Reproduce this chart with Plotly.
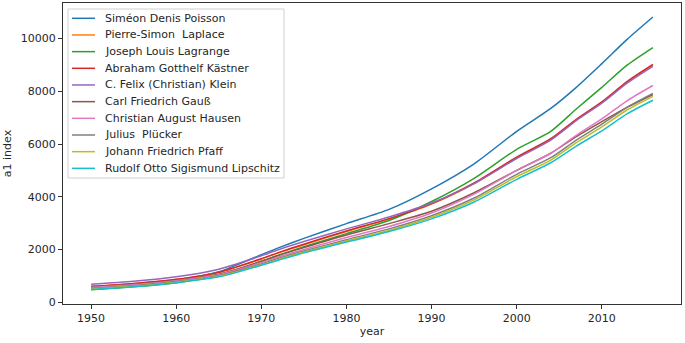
import plotly.graph_objects as go

years = [1950, 1955, 1960, 1965, 1967, 1970, 1972, 1975, 1980, 1985, 1990, 1995, 2000, 2004, 2007, 2010, 2013, 2016]

names = [
    "Siméon Denis Poisson",
    "Pierre-Simon  Laplace",
    "Joseph Louis Lagrange",
    "Abraham Gotthelf Kästner",
    "C. Felix (Christian) Klein",
    "Carl Friedrich Gauß",
    "Christian August Hausen",
    "Julius  Plücker",
    "Johann Friedrich Pfaff",
    "Rudolf Otto Sigismund Lipschitz",
]

poisson = [540, 650, 830, 1150, 1400, 1800, 2060, 2420, 2980, 3520, 4300, 5250, 6480, 7350, 8150, 9050, 9980, 10820]
laplace = [590, 700, 860, 1120, 1320, 1640, 1870, 2180, 2680, 3150, 3720, 4500, 5480, 6180, 6920, 7580, 8350, 8990]
lagrange = [470, 580, 740, 1000, 1200, 1550, 1780, 2100, 2600, 3100, 3820, 4700, 5800, 6480, 7330, 8150, 9000, 9660]
kastner = [600, 710, 870, 1130, 1330, 1650, 1880, 2200, 2700, 3170, 3740, 4520, 5500, 6200, 6940, 7600, 8380, 9020]
klein = [680, 790, 960, 1250, 1440, 1760, 1990, 2300, 2780, 3230, 3760, 4500, 5450, 6150, 6890, 7550, 8320, 8950]
gauss = [580, 680, 830, 1060, 1240, 1550, 1770, 2070, 2550, 2980, 3450, 4150, 5000, 5650, 6280, 6850, 7400, 7880]
hausen = [560, 660, 810, 1040, 1210, 1500, 1710, 2000, 2450, 2870, 3380, 4100, 5000, 5650, 6330, 6950, 7650, 8220]
plucker = [520, 620, 780, 1000, 1170, 1450, 1660, 1940, 2370, 2780, 3280, 3950, 4850, 5480, 6150, 6750, 7400, 7920]
pfaff = [500, 600, 760, 980, 1140, 1420, 1620, 1900, 2320, 2720, 3220, 3880, 4760, 5390, 6050, 6650, 7300, 7810]
lipschitz = [480, 580, 740, 960, 1120, 1400, 1590, 1870, 2280, 2680, 3160, 3800, 4660, 5290, 5920, 6500, 7150, 7660]

series = [poisson, laplace, lagrange, kastner, klein, gauss, hausen, plucker, pfaff, lipschitz]
colors = ["#1f77b4", "#ff7f0e", "#2ca02c", "#d62728", "#9467bd",
          "#8c564b", "#e377c2", "#7f7f7f", "#bcbd22", "#17becf"]

yticks = [0, 2000, 4000, 6000, 8000, 10000]
ytick_labels = ["0", "2000", "4000", "6000", "8000", "10000"]
xticks = [1950, 1960, 1970, 1980, 1990, 2000, 2010]

W, H = 685, 343
L, R, T, B = 63, 4, 3, 39
PW, PH = W - L - R, H - T - B

def px_x(px):
    return (px - L) / PW

def px_y(py):
    return (H - B - py) / PH

fig = go.Figure()
for name, vals, c in zip(names, series, colors):
    fig.add_trace(go.Scatter(x=years, y=vals, name=name, mode="lines", showlegend=False,
                             line=dict(color=c, width=1.5, shape="spline", smoothing=0.7)))

font = dict(family="DejaVu Sans", size=11, color="#262626")
axis_common = dict(showline=True, linecolor="#333333", linewidth=1, mirror=True,
                   ticks="outside", ticklen=4, tickwidth=0.8, tickcolor="#333333",
                   showgrid=False, zeroline=False, tickfont=font)

# legend drawn as box + sample lines + text
shapes = [dict(type="rect", xref="paper", yref="paper",
               x0=px_x(68), x1=px_x(284), y0=px_y(178), y1=px_y(9),
               line=dict(color="#d0d0d0", width=1), fillcolor="rgba(255,255,255,0.8)",
               layer="above")]
annotations = []
for i, (name, c) in enumerate(zip(names, colors)):
    yy = 18.3 + 16.67 * i
    shapes.append(dict(type="line", xref="paper", yref="paper",
                       x0=px_x(72), x1=px_x(95), y0=px_y(yy), y1=px_y(yy),
                       line=dict(color=c, width=1.5), layer="above"))
    annotations.append(dict(xref="paper", yref="paper", x=px_x(103), y=px_y(yy),
                            text=name, showarrow=False, xanchor="left", yanchor="middle",
                            font=font))

fig.update_layout(
    width=W, height=H,
    margin=dict(l=L, r=R, t=T, b=B),
    paper_bgcolor="white", plot_bgcolor="white",
    font=font,
    showlegend=False,
    shapes=shapes,
    annotations=annotations,
    xaxis=dict(range=[1946.7, 2019.3], tickvals=xticks,
               title=dict(text="year", font=font, standoff=3), **axis_common),
    yaxis=dict(range=[-70, 11350], tickvals=yticks, ticktext=ytick_labels,
               title=dict(text="a1 index", font=font, standoff=6), **axis_common),
)

fig.write_html("out.html", config={"displayModeBar": False},
               post_script="document.body.style.margin='0';document.body.style.overflow='hidden';")
